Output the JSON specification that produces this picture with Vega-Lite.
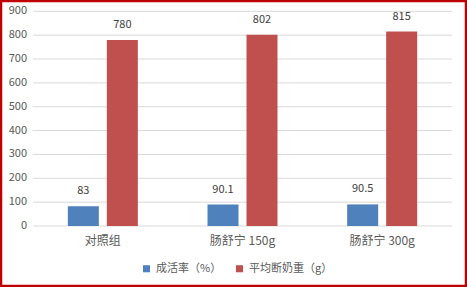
{
  "$schema": "https://vega.github.io/schema/vega-lite/v6.json",
  "width": 465,
  "height": 285,
  "autosize": {"type": "none"},
  "padding": 1,
  "background": "white",
  "config": {
    "view": {"stroke": "#c00000", "strokeWidth": 2.5, "fill": "white"},
    "font": "Noto Sans CJK SC"
  },
  "data": {
    "values": [
      {"group": "对照组", "series": "成活率（%）", "value": 83},
      {"group": "对照组", "series": "平均断奶重（g）", "value": 780},
      {"group": "肠舒宁 150g", "series": "成活率（%）", "value": 90.1},
      {"group": "肠舒宁 150g", "series": "平均断奶重（g）", "value": 802},
      {"group": "肠舒宁 300g", "series": "成活率（%）", "value": 90.5},
      {"group": "肠舒宁 300g", "series": "平均断奶重（g）", "value": 815}
    ]
  },
  "resolve": {"scale": {"x": "independent"}},
  "layer": [
    {
      "data": {"values": [{"v": 0}, {"v": 100}, {"v": 200}, {"v": 300}, {"v": 400}, {"v": 500}, {"v": 600}, {"v": 700}, {"v": 800}, {"v": 900}]},
      "mark": {"type": "rule", "color": "#d9d9d9", "strokeWidth": 1},
      "encoding": {
        "x": {"datum": 0, "type": "quantitative", "scale": {"domain": [0, 1], "range": [32, 451]}, "axis": null},
        "x2": {"datum": 1},
        "y": {
          "field": "v", "type": "quantitative",
          "scale": {"domain": [0, 900], "range": [225, 10.3], "nice": false},
          "axis": {"title": null, "grid": false, "domain": false, "ticks": false, "labels": false}
        }
      }
    },
    {
      "data": {"values": [{"v": 0}, {"v": 100}, {"v": 200}, {"v": 300}, {"v": 400}, {"v": 500}, {"v": 600}, {"v": 700}, {"v": 800}, {"v": 900}]},
      "mark": {"type": "text", "align": "right", "baseline": "middle", "dx": -6, "fontSize": 11, "color": "#595959"},
      "encoding": {
        "x": {"datum": 0, "type": "quantitative", "scale": {"domain": [0, 1], "range": [32, 451]}, "axis": null},
        "y": {"field": "v", "type": "quantitative"},
        "text": {"field": "v", "type": "quantitative"}
      }
    },
    {
      "resolve": {"scale": {"x": "shared"}},
      "layer": [
        {
          "mark": {"type": "bar"},
          "encoding": {
            "x": {
              "field": "group", "type": "nominal", "sort": ["对照组", "肠舒宁 150g", "肠舒宁 300g"],
              "scale": {"range": [32, 451], "paddingInner": 0, "paddingOuter": 0},
              "axis": {"title": null, "labelAngle": 0, "domain": false, "ticks": false, "offset": -60, "labelPadding": 9, "labelFontSize": 12, "labelColor": "#595959"}
            },
            "xOffset": {"field": "series", "type": "nominal", "sort": ["成活率（%）", "平均断奶重（g）"], "scale": {"paddingInner": 0.205, "paddingOuter": 0.893}},
            "y": {
              "field": "value", "type": "quantitative",
              "scale": {"domain": [0, 900], "range": [225, 10.3], "nice": false},
              "axis": {"title": null, "grid": false, "domain": false, "ticks": false, "labels": false}
            },
            "color": {
              "field": "series", "type": "nominal",
              "scale": {"domain": ["成活率（%）", "平均断奶重（g）"], "range": ["#4F81BD", "#C0504D"]},
              "legend": {"title": null, "orient": "none", "legendX": 140, "legendY": 262, "direction": "horizontal", "symbolType": "square", "symbolSize": 50, "symbolStrokeWidth": 0, "labelFontSize": 11, "labelColor": "#595959", "columnPadding": 12}
            }
          }
        },
        {
          "mark": {"type": "text", "dy": -15, "baseline": "middle", "fontSize": 11, "color": "#404040"},
          "encoding": {
            "x": {"field": "group", "type": "nominal", "sort": ["对照组", "肠舒宁 150g", "肠舒宁 300g"]},
            "xOffset": {"field": "series", "type": "nominal", "sort": ["成活率（%）", "平均断奶重（g）"]},
            "y": {"field": "value", "type": "quantitative"},
            "text": {"field": "value", "type": "quantitative"}
          }
        }
      ]
    }
  ]
}
